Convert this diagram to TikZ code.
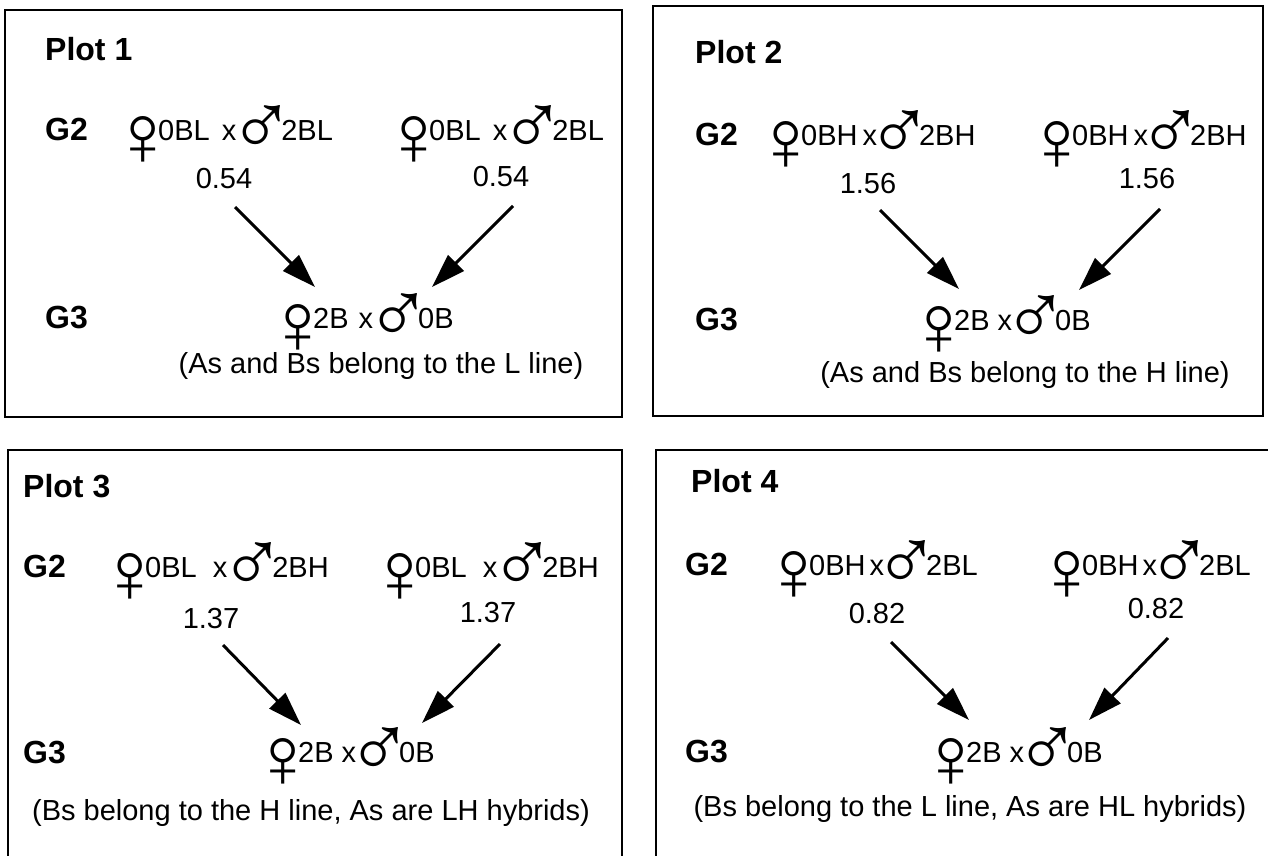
\documentclass[tikz,border=0pt]{standalone}
\usepackage{fontspec}
\setmainfont{Liberation Sans}
\usetikzlibrary{arrows.meta}
\newsavebox\symbox
\newcommand\fem{\sbox\symbox{\resizebox*{!}{49pt}{♀}}\makebox[26pt][c]{\raisebox{\dimexpr\dp\symbox-25pt\relax}{\usebox\symbox}}}
\newcommand\mal{\sbox\symbox{\resizebox*{!}{50pt}{♂}}\makebox[37pt][c]{\raisebox{\dimexpr\dp\symbox-15.6pt\relax}{\usebox\symbox}}}
\newcommand\cross[4]{\fem\hspace{2pt}#1\hspace{#3}x\hspace{#4}\mal\hspace{1pt}#2}
\tikzset{
  txt/.style={inner sep=0pt, anchor=base west, font=\fontsize{29}{34}\selectfont},
  lbl/.style={txt, font=\fontsize{32}{38}\selectfont\bfseries},
  num/.style={inner sep=0pt, anchor=base, font=\fontsize{29}{34}\selectfont},
  frame/.style={line width=2.8pt},
  arr/.style={line width=3pt, -{Triangle[length=34pt,width=22pt]}}
}
\begin{document}
\begin{tikzpicture}[x=1pt,y=-1pt]
\useasboundingbox (0,0) rectangle (1268,855);
\clip (0,0) rectangle (1268,855);
% frames
\draw[frame] (5,10) rectangle (622,417);
\draw[frame] (653,6) rectangle (1263,416);
\draw[frame] (8,870) |- (622,450) -- (622,870);
\draw[frame] (656,870) |- (1290,450);
% Plot 1
\node[lbl] (p1t) at (45,60) {Plot 1};
\node[lbl] (p1g2) at (45,140) {G2};
\node[lbl] (p1g3) at (45,328) {G3};
\node[txt] (p1a) at (130,140) {\cross{0BL}{2BL}{12pt}{7pt}};
\node[txt] (p1b) at (401,140) {\cross{0BL}{2BL}{12pt}{7pt}};
\node[num] (p1n1) at (224,188) {0.54};
\node[num] (p1n2) at (501,186) {0.54};
\node[txt] (p1c) at (285,328) {\cross{2B}{0B}{10pt}{7pt}};
\node[num] (p1cap) at (381,373) {(As and Bs belong to the L line)};
\coordinate (p1s1) at (235,207); \coordinate (p1e1) at (315,287);
\coordinate (p1s2) at (513,206); \coordinate (p1e2) at (432,287);
\draw[arr] (p1s1) -- (p1e1);
\draw[arr] (p1s2) -- (p1e2);
% Plot 2
\node[lbl] (p2t) at (695,63) {Plot 2};
\node[lbl] (p2g2) at (695,145) {G2};
\node[lbl] (p2g3) at (695,330) {G3};
\node[txt] (p2a) at (773,145) {\cross{0BH}{2BH}{5pt}{4pt}};
\node[txt] (p2b) at (1044,145) {\cross{0BH}{2BH}{5pt}{4pt}};
\node[num] (p2n1) at (868,193) {1.56};
\node[num] (p2n2) at (1147,188) {1.56};
\node[txt] (p2c) at (926,330) {\cross{2B}{0B}{8pt}{5pt}};
\node[num] (p2cap) at (1025,382) {(As and Bs belong to the H line)};
\coordinate (p2s1) at (880,210); \coordinate (p2e1) at (959,289);
\coordinate (p2s2) at (1160,209); \coordinate (p2e2) at (1079,290);
\draw[arr] (p2s1) -- (p2e1);
\draw[arr] (p2s2) -- (p2e2);
% Plot 3
\node[lbl] (p3t) at (23,497) {Plot 3};
\node[lbl] (p3g2) at (23,577) {G2};
\node[lbl] (p3g3) at (23,763) {G3};
\node[txt] (p3a) at (117,577) {\cross{0BL}{2BH}{16pt}{7pt}};
\node[txt] (p3b) at (387,577) {\cross{0BL}{2BH}{16pt}{7pt}};
\node[num] (p3n1) at (211,628) {1.37};
\node[num] (p3n2) at (488,622) {1.37};
\node[txt] (p3c) at (270,762) {\cross{2B}{0B}{8pt}{5pt}};
\node[num] (p3cap) at (311,820) {(Bs belong to the H line, As are LH hybrids)};
\coordinate (p3s1) at (223,645); \coordinate (p3e1) at (301,725);
\coordinate (p3s2) at (500,644); \coordinate (p3e2) at (422,723);
\draw[arr] (p3s1) -- (p3e1);
\draw[arr] (p3s2) -- (p3e2);
% Plot 4
\node[lbl] (p4t) at (691,492) {Plot 4};
\node[lbl] (p4g2) at (685,575) {G2};
\node[lbl] (p4g3) at (685,762) {G3};
\node[txt] (p4a) at (781,575) {\cross{0BH}{2BL}{4pt}{4pt}};
\node[txt] (p4b) at (1054,575) {\cross{0BH}{2BL}{4pt}{4pt}};
\node[num] (p4n1) at (877,623) {0.82};
\node[num] (p4n2) at (1156,618) {0.82};
\node[txt] (p4c) at (938,762) {\cross{2B}{0B}{8pt}{5pt}};
\node[num] (p4cap) at (970,816) {(Bs belong to the L line, As are HL hybrids)};
\coordinate (p4s1) at (891,642); \coordinate (p4e1) at (969,720);
\coordinate (p4s2) at (1168,638); \coordinate (p4e2) at (1089,720);
\draw[arr] (p4s1) -- (p4e1);
\draw[arr] (p4s2) -- (p4e2);
\end{tikzpicture}
\end{document}
